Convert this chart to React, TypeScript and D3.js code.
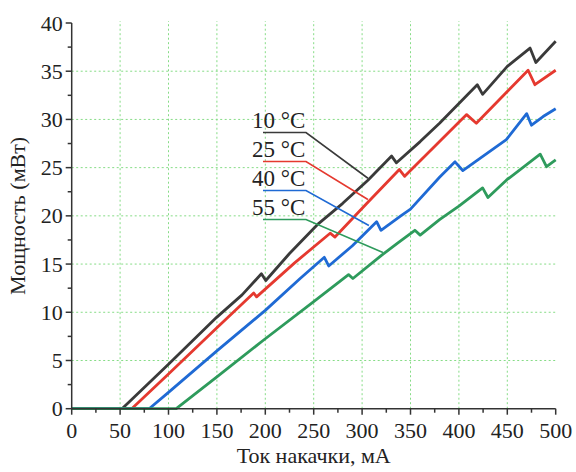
import React from "react";
import * as d3 from "d3";

type Pt = [number, number];

const series10: Pt[] = [[0,0],[52,0],[100,4.6],[150,9.5],[176,11.8],[196,14.0],[200.5,13.3],[225,16.1],[255,19.2],[280,21.3],[306,23.7],[330.5,26.2],[335.5,25.5],[360,27.7],[380,29.6],[419,33.6],[424.5,32.6],[450,35.5],[473.5,37.4],[479.5,35.9],[500,38.1]];
const series25: Pt[] = [[0,0],[62,0],[100,3.6],[150,8.4],[188,12.0],[191,11.6],[230,15.1],[267,18.2],[272,17.8],[305,21.3],[338.5,24.8],[344,24.1],[380,27.7],[408,30.5],[418,29.6],[450,32.9],[471.5,35.1],[478.5,33.6],[500,35.1]];
const series40: Pt[] = [[0,0],[80,0],[100,1.7],[150,6.0],[200,10.2],[236,13.5],[261,15.7],[265.5,14.8],[290,16.9],[315,19.4],[319.5,18.5],[340,20.0],[350,20.7],[380,24.0],[396,25.6],[404,24.7],[449,27.9],[470,30.6],[475,29.4],[487,30.3],[500,31.1]];
const series55: Pt[] = [[0,0],[108,0],[150,3.3],[198,7.1],[250,11.1],[286,13.9],[290.5,13.5],[320,15.9],[337,17.2],[354.5,18.5],[360,18.0],[380,19.6],[400,21.0],[424.5,22.9],[430,21.9],[449,23.7],[484,26.4],[490.5,25.1],[500,25.8]];

const seriesNames = ["10 °C", "25 °C", "40 °C", "55 °C"];
const seriesColors = ["#3a3a3a", "#e5392f", "#1f6ad4", "#2e9b5c"];
// leader targets on the curves (data coordinates)
const leaderTargets: Pt[] = [[306, 23.9], [306, 21.7], [307, 19.0], [321.5, 16.2]];

const xTicks = [0, 50, 100, 150, 200, 250, 300, 350, 400, 450, 500];
const yTicks = [0, 5, 10, 15, 20, 25, 30, 35, 40];
const xGrid = [50, 100, 150, 200, 250, 300, 350, 400, 450];
const yGrid = [5, 10, 15, 20, 25, 30, 35];
const xLabel = "Ток накачки, мА";
const yLabel = "Мощность (мВт)";

export default function App() {
  const x = d3.scaleLinear().domain([0, 500]).range([71.7, 555.7]);
  const y = d3.scaleLinear().domain([0, 40]).range([408.7, 23]);
  const line = d3.line<Pt>().x((d) => x(d[0])).y((d) => y(d[1]));
  const all = [series10, series25, series40, series55];
  const font = "'Liberation Serif', 'Times New Roman', serif";
  const gridColor = "#86dc86";
  const axisColor = "#333";
  const xMinor = d3.range(25, 500, 50);
  const yMinor = d3.range(2.5, 40, 5);
  const legX = 252;
  const legLineX0 = 263;
  const legLineX1 = 306;
  const legRows = [128, 157, 186, 215];

  return (
    <svg width={576} height={472} style={{ position: "absolute", left: 0, top: 0, background: "#fff" }}>
      {/* grid */}
      <g stroke={gridColor} strokeWidth={1} strokeDasharray="2,2.5">
        {xGrid.map((v) => (
          <line key={"gx" + v} x1={x(v)} x2={x(v)} y1={y(0)} y2={y(40) - 2} />
        ))}
        {yGrid.map((v) => (
          <line key={"gy" + v} x1={x(0)} x2={x(500)} y1={y(v)} y2={y(v)} />
        ))}
      </g>
      {/* series */}
      {all.map((s, i) => (
        <path key={"s" + i} d={line(s) || ""} fill="none" stroke={seriesColors[i]} strokeWidth={2.8} strokeLinejoin="round" />
      ))}
      {/* axes */}
      <g stroke={axisColor} strokeWidth={1.5}>
        <line x1={x(0)} x2={x(500)} y1={y(0)} y2={y(0)} />
        <line x1={x(0)} x2={x(0)} y1={y(0)} y2={y(40)} />
        {xTicks.map((v) => (
          <line key={"tx" + v} x1={x(v)} x2={x(v)} y1={y(0)} y2={y(0) + 6} />
        ))}
        {xMinor.map((v) => (
          <line key={"mx" + v} x1={x(v)} x2={x(v)} y1={y(0)} y2={y(0) + 4} />
        ))}
        {yTicks.map((v) => (
          <line key={"ty" + v} x1={x(0) - 6} x2={x(0)} y1={y(v)} y2={y(v)} />
        ))}
        {yMinor.map((v) => (
          <line key={"my" + v} x1={x(0) - 4} x2={x(0)} y1={y(v)} y2={y(v)} />
        ))}
      </g>
      <g fontFamily={font} fontSize={22} fill="#222">
        {xTicks.map((v) => (
          <text key={"lx" + v} x={x(v)} y={y(0) + 29} textAnchor="middle">{v}</text>
        ))}
        {yTicks.map((v) => (
          <text key={"ly" + v} x={x(0) - 9} y={y(v) + 7.5} textAnchor="end">{v}</text>
        ))}
        <text x={(x(0) + x(500)) / 2} y={463} textAnchor="middle">{xLabel}</text>
        <text transform={`translate(25, ${(y(0) + y(40)) / 2}) rotate(-90)`} textAnchor="middle">{yLabel}</text>
      </g>
      {/* legend with leaders */}
      <g fontFamily={font} fontSize={23} fill="#222">
        {seriesNames.map((n, i) => {
          const ly = legRows[i] + 4.5;
          const t = leaderTargets[i];
          return (
            <g key={"leg" + i}>
              <text x={legX} y={legRows[i]}>{n}</text>
              <polyline
                points={`${legLineX0},${ly} ${legLineX1},${ly} ${x(t[0])},${y(t[1])}`}
                fill="none"
                stroke={seriesColors[i]}
                strokeWidth={1.6}
              />
            </g>
          );
        })}
      </g>
    </svg>
  );
}
